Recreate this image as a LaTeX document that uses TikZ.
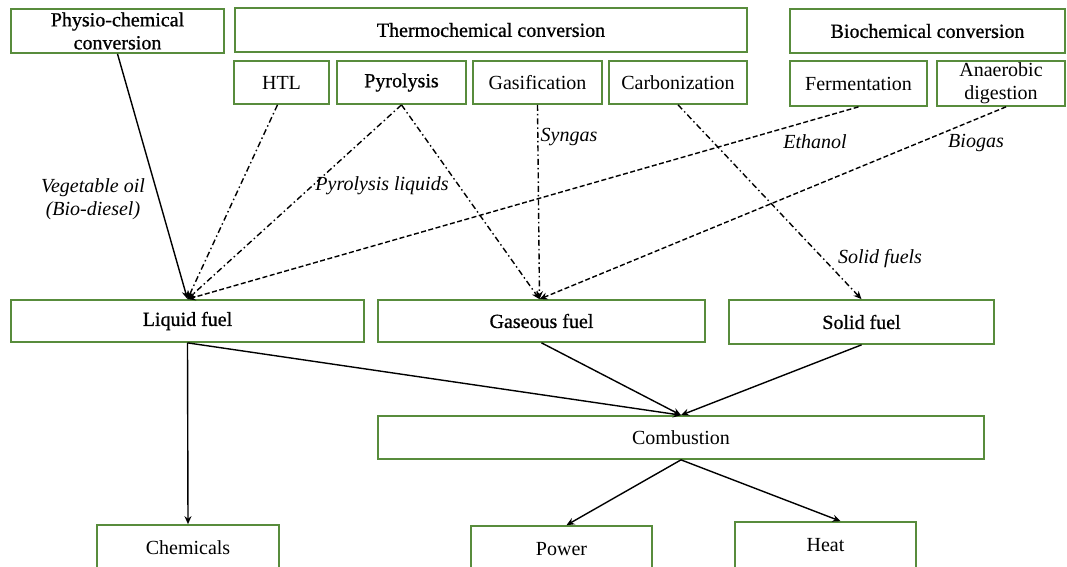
\documentclass[tikz,border=0pt]{standalone}
\usepackage{fontspec}
\setmainfont{Liberation Serif}
\newfontfamily\semibf[FakeBold=0.8]{Liberation Serif}
\usetikzlibrary{arrows.meta}
\definecolor{boxgreen}{RGB}{88,140,60}
\begin{document}
\begin{tikzpicture}[x=1pt,y=-1pt,
 box/.style={draw=boxgreen,line width=1.7pt,fill=white,inner sep=0pt,align=center,font=\fontsize{20}{23}\selectfont},
 hb/.style={box,font=\fontsize{20}{23}\semibf},
 conn/.style={line width=1.4pt,-{Stealth[length=8pt,width=7pt]}},
 dd/.style={conn,dash pattern=on 6pt off 3pt on 1.5pt off 3pt},
 ds/.style={conn,dash pattern=on 5pt off 2.5pt},
 lbl/.style={font=\fontsize{20}{23}\selectfont\itshape,align=center,inner sep=0pt}]
\useasboundingbox (0,0) rectangle (1067,566);
% top row
\node[hb,minimum width=213,minimum height=44] (phys) at (117.5,31) {Physio-chemical\\conversion};
\node[hb,minimum width=512,minimum height=44] (thermo) at (491,30) {Thermochemical conversion};
\node[hb,minimum width=275,minimum height=44] (bio) at (927.5,31) {Biochemical conversion};
% second row
\node[box,minimum width=95,minimum height=43] (htl) at (281.5,82.5) {HTL};
\node[hb,minimum width=129,minimum height=43] (pyro) at (401.5,82.5) {Pyrolysis};
\node[box,minimum width=129,minimum height=43] (gas) at (537.5,82.5) {Gasification};
\node[box,minimum width=138,minimum height=43] (carb) at (678,82.5) {Carbonization};
\node[box,minimum width=137,minimum height=45] (ferm) at (858.5,83.5) {Fermentation};
\node[box,minimum width=128,minimum height=45] (anae) at (1001,83.5) {Anaerobic\\digestion};
% fuels
\node[hb,minimum width=353,minimum height=42] (liquid) at (187.5,321) {Liquid fuel};
\node[hb,minimum width=327,minimum height=42] (gaseous) at (541.5,321) {Gaseous fuel};
\node[hb,minimum width=265,minimum height=44] (solid) at (861.5,322) {Solid fuel};
% combustion
\node[box,minimum width=606,minimum height=43] (comb) at (681,437.5) {Combustion};
% products
\node[box,minimum width=182,minimum height=46] (chem) at (188,548) {Chemicals};
\node[box,minimum width=181,minimum height=46] (power) at (561.5,549) {Power};
\node[box,minimum width=181,minimum height=46] (heat) at (825.5,545) {Heat};
% labels
\node[lbl] (lveg) at (93,199) {Vegetable oil\\(Bio-diesel)};
\node[lbl] (lpyr) at (382,186) {Pyrolysis liquids};
\node[lbl] (lsyn) at (569,137) {Syngas};
\node[lbl] (leth) at (815,142) {Ethanol};
\node[lbl] (lbio) at (976,143) {Biogas};
\node[lbl] (lsol) at (880,259) {Solid fuels};
% connectors into fuels
\draw[conn] (phys.south) -- (liquid.north);
\draw[dd] ([xshift=-4pt]htl.south) -- (liquid.north);
\draw[dd] (pyro.south) -- (liquid.north);
\draw[dd] (pyro.south) -- ([xshift=-2pt]gaseous.north);
\draw[dd] (gas.south) -- ([xshift=-2pt]gaseous.north);
\draw[dd] (carb.south) -- (solid.north);
\draw[ds] (ferm.south) -- (liquid.north);
\draw[ds] ([xshift=5pt]anae.south) -- ([xshift=-2pt]gaseous.north);
% lower connectors
\draw[conn] (liquid.south) -- (chem.north);
\draw[conn] (liquid.south) -- (comb.north);
\draw[conn] (gaseous.south) -- (comb.north);
\draw[conn] (solid.south) -- (comb.north);
\draw[conn] (comb.south) -- ([xshift=5pt]power.north);
\draw[conn] (comb.south) -- ([xshift=15pt]heat.north);
\end{tikzpicture}
\end{document}
